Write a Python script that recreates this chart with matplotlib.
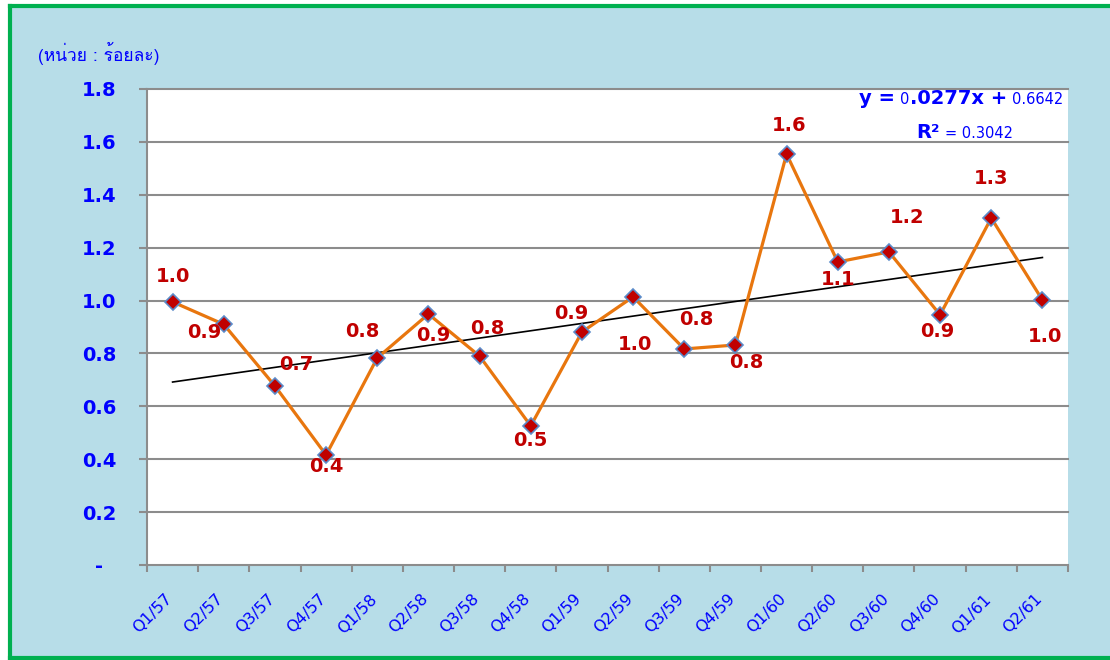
import numpy as np
import matplotlib
matplotlib.use('Agg')
import matplotlib.pyplot as plt
from matplotlib import font_manager, ft2font
from matplotlib.patches import Rectangle
from matplotlib.lines import Line2D
import matplotlib.transforms as mtransforms

# data (percent)
quarters = ['Q1/57', 'Q2/57', 'Q3/57', 'Q4/57', 'Q1/58', 'Q2/58', 'Q3/58', 'Q4/58',
            'Q1/59', 'Q2/59', 'Q3/59', 'Q4/59', 'Q1/60', 'Q2/60', 'Q3/60', 'Q4/60',
            'Q1/61', 'Q2/61']
values = [0.995, 0.91, 0.677, 0.416, 0.783, 0.949, 0.79, 0.526,
          0.881, 1.014, 0.817, 0.832, 1.554, 1.146, 1.184, 0.946,
          1.312, 1.002]
trend_slope = 0.0277
trend_intercept = 0.6642
trend_r2 = 0.3042
unit_text = '(หน่วย : ร้อยละ)'

# label offsets in pixels (dx, dy) relative to each point
label_offsets = [(0, 25), (-20, -8), (21, 21), (0, -12), (-15, 26), (5, -21),
                 (8, 28), (0, -15), (-11, 19), (2, -48), (12, 29), (11, -18),
                 (3, 29), (0, -18), (18, 34), (-3, -17), (0, 40), (3, -36)]

BLUE = '#0000FF'
RED = '#C00000'
ORANGE = '#E8760E'
GRID = '#8C8C8C'
BG = '#B7DDE8'
GREEN = '#00B050'
W, H = 1110, 660


def find_thai_font():
    for f in font_manager.fontManager.ttflist:
        try:
            cm = ft2font.FT2Font(f.fname).get_charmap()
        except Exception:
            continue
        if 0x0E2B in cm:
            return f.name
    return None


def fx(px):
    return px / W


def fy(py):
    return 1 - py / H


def mixed_text(fig, right_px, base_px, pieces):
    # pieces: (text, size, weight, gap_after_px); laid out right to left on one baseline
    rend = fig.canvas.get_renderer()
    xr = right_px
    for s, size, weight, gap in reversed(pieces):
        xr -= gap
        t = fig.text(fx(xr), fy(base_px), s, ha='right', va='baseline',
                     color=BLUE, fontsize=size, fontweight=weight)
        xr -= t.get_window_extent(rend).width


fig = plt.figure(figsize=(W / 100, H / 100), dpi=100)
fig.patch.set_facecolor('white')
# light blue panel with green frame on left, top and bottom (right side is cut off)
fig.patches.append(Rectangle((fx(10), fy(658)), 1.0, fy(6) - fy(658),
                             transform=fig.transFigure, facecolor=BG,
                             edgecolor='none', zorder=-5))
for xs, ys in [([10, 10], [6, 658]), ([10, W + 5], [6, 6]), ([10, W + 5], [658, 658])]:
    fig.add_artist(Line2D([fx(v) for v in xs], [fy(v) for v in ys],
                          transform=fig.transFigure, color=GREEN, lw=3.0,
                          solid_capstyle='projecting', zorder=-4))

ax = fig.add_axes([fx(147), fy(565), fx(1068) - fx(147), fy(89) - fy(565)])
ax.set_facecolor('white')

x = np.arange(1, len(values) + 1)
ax.set_xlim(0.5, len(values) + 0.5)
ax.set_ylim(0, 1.8)

# grid
yticks = np.arange(0, 1.81, 0.2)
for yv in yticks[1:]:
    ax.axhline(yv, color=GRID, lw=1.5, zorder=1, clip_on=False)

# trend line
ax.plot(x, trend_slope * x + trend_intercept, color='black', lw=1.2, zorder=2)

# series
ax.plot(x, values, color=ORANGE, lw=2.3, zorder=3,
        marker='D', markersize=8.5, markerfacecolor=RED,
        markeredgecolor='#5B8BC9', markeredgewidth=1.2)

for xi, v, (dx, dy) in zip(x, values, label_offsets):
    ax.annotate('%.1f' % v, (xi, v), xytext=(dx, dy), textcoords='offset pixels',
                ha='center', va='center', color=RED, fontsize=14,
                fontweight='bold', zorder=4)

# axes styling
for s in ['top', 'right']:
    ax.spines[s].set_visible(False)
for s in ['left', 'bottom']:
    ax.spines[s].set_color(GRID)
    ax.spines[s].set_linewidth(1.5)

ax.set_yticks(yticks)
ax.set_yticklabels(['-  '] + ['%.1f' % t for t in yticks[1:]])
ax.tick_params(axis='y', direction='out', length=6, width=1.5, color=GRID,
               labelcolor=BLUE, labelsize=14, pad=16)
for lab in ax.get_yticklabels():
    lab.set_fontweight('bold')

ax.set_xticks(np.arange(0.5, len(values) + 1))
ax.set_xticklabels([])
ax.tick_params(axis='x', direction='out', length=5, width=1.5, color=GRID)
ax.set_xticks(x, minor=True)
ax.set_xticklabels(quarters, minor=True, rotation=45, ha='right', va='top',
                   rotation_mode='anchor', color=BLUE, fontsize=11.5)
ax.tick_params(axis='x', which='minor', length=0, pad=19)
shift = mtransforms.ScaledTranslation(-8 / 100, 0, fig.dpi_scale_trans)
for lab in ax.get_xticklabels(minor=True):
    lab.set_transform(lab.get_transform() + shift)

# trend equation (Excel style mixed sizes)
slope_txt = '%.4f' % trend_slope
mixed_text(fig, 1063, 104, [('y =', 14, 'bold', 5),
                            (slope_txt[0], 10.5, 'normal', 0),
                            (slope_txt[1:] + 'x +', 14, 'bold', 5),
                            ('%.4f' % trend_intercept, 10.5, 'normal', 0)])
mixed_text(fig, 1013, 138, [('R²', 14, 'bold', 5),
                            ('= %.4f' % trend_r2, 10.5, 'normal', 0)])

thai = find_thai_font()
fam = [thai, 'DejaVu Sans'] if thai else ['DejaVu Sans']
fig.text(fx(38), fy(53), unit_text, ha='left', va='center', color=BLUE,
         fontsize=12.5, family=fam)

fig.savefig('out.png', dpi=100)
